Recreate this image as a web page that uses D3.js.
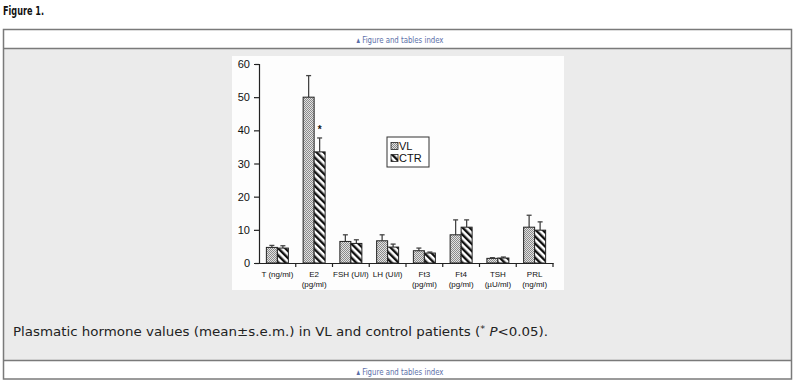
<!DOCTYPE html>
<html>
<head>
<meta charset="utf-8">
<script src="https://cdnjs.cloudflare.com/ajax/libs/d3/7.8.5/d3.min.js"></script>
<style>
  body { margin: 0; background: #fff; }
  svg { display: block; }
</style>
</head>
<body>
<div id="chart"></div>
<script>
// data
var categories = ["T", "E2", "FSH", "LH", "Ft3", "Ft4", "TSH", "PRL"];
var labelLine1 = ["T (ng/ml)", "E2", "FSH (UI/l)", "LH (UI/l)", "Ft3", "Ft4", "TSH", "PRL"];
var labelLine2 = ["", "(pg/ml)", "", "", "(pg/ml)", "(pg/ml)", "(\u00b5U/ml)", "(ng/ml)"];
var vlMean = [4.7, 50, 6.5, 6.7, 3.7, 8.5, 1.4, 10.8];
var vlErr = [0.6, 6.5, 2.0, 1.8, 0.8, 4.5, 0.2, 3.6];
var ctrMean = [4.5, 33.5, 5.9, 4.8, 3.0, 10.8, 1.5, 9.9];
var ctrErr = [0.7, 4.2, 1.1, 0.9, 0.3, 2.2, 0.3, 2.5];
var yTicks = [0, 10, 20, 30, 40, 50, 60];
var seriesNames = ["VL", "CTR"];

var W = 800, H = 387;
var svg = d3.select("#chart").append("svg").attr("width", W).attr("height", H);

var defs = svg.append("defs");
var dots = defs.append("pattern").attr("id", "dots")
  .attr("patternUnits", "userSpaceOnUse").attr("width", 2).attr("height", 2);
dots.append("rect").attr("width", 2).attr("height", 2).attr("fill", "#e2e2e2");
dots.append("rect").attr("width", 1).attr("height", 1).attr("fill", "#8a8a8a");
dots.append("rect").attr("x", 1).attr("y", 1).attr("width", 1).attr("height", 1).attr("fill", "#8a8a8a");

var stripes = defs.append("pattern").attr("id", "stripes")
  .attr("patternUnits", "userSpaceOnUse").attr("width", 5).attr("height", 5)
  .attr("patternTransform", "rotate(-45)");
stripes.append("rect").attr("width", 5).attr("height", 5).attr("fill", "#fff");
stripes.append("rect").attr("width", 2.4).attr("height", 5).attr("fill", "#111");

var fills = { VL: "url(#dots)", CTR: "url(#stripes)" };

/* page frame */
svg.append("text").attr("x", 3).attr("y", 15)
  .attr("font-family", "DejaVu Sans Condensed, DejaVu Sans")
  .attr("font-weight", "bold").attr("font-size", 13)
  .attr("textLength", 41).attr("lengthAdjust", "spacingAndGlyphs")
  .attr("fill", "#111").text("Figure 1.");

svg.append("rect").attr("x", 3.5).attr("y", 48.5).attr("width", 788).attr("height", 312)
  .attr("fill", "#ebebeb");
svg.append("rect").attr("x", 3.5).attr("y", 29.5).attr("width", 788).attr("height", 349.5)
  .attr("fill", "none").attr("stroke", "#7a7a7a").attr("stroke-width", 1.5);
[48.5, 360.5].forEach(function(y) {
  svg.append("line").attr("x1", 3.5).attr("x2", 791.5).attr("y1", y).attr("y2", y)
    .attr("stroke", "#7a7a7a").attr("stroke-width", 1.5);
});

[39, 371].forEach(function(y) {
  svg.append("text").attr("x", 400).attr("y", y + 3.5).attr("text-anchor", "middle")
    .attr("font-family", "DejaVu Sans Condensed, DejaVu Sans").attr("font-size", 9.5)
    .attr("fill", "#5b6ea8")
    .attr("textLength", 87).attr("lengthAdjust", "spacingAndGlyphs")
    .text("\u25b4 Figure and tables index");
});

var cap = svg.append("text").attr("x", 13).attr("y", 336)
  .attr("font-family", "Verdana, DejaVu Sans").attr("font-size", 12.5).attr("fill", "#222")
  .attr("textLength", 535).attr("lengthAdjust", "spacingAndGlyphs");
cap.append("tspan").text("Plasmatic hormone values (mean\u00b1s.e.m.) in VL and control patients (");
cap.append("tspan").attr("font-size", 9).attr("dy", -4).text("*");
cap.append("tspan").attr("dy", 4).text(" ");
cap.append("tspan").attr("font-style", "italic").text("P");
cap.append("tspan").text("<0.05).");

/* chart image */
svg.append("rect").attr("x", 232).attr("y", 56).attr("width", 332).attr("height", 234)
  .attr("fill", "#fdfdfd");

var x = d3.scaleBand().domain(categories).range([259, 553]).padding(0);
var xs = d3.scaleBand().domain(seriesNames).range([0, x.bandwidth()])
  .paddingInner(0).paddingOuter(0.67);
var y = d3.scaleLinear().domain([0, 60]).range([263, 64]);

var g = svg.append("g");

var yAxis = d3.axisLeft(y).tickValues(yTicks).tickSize(5).tickPadding(4);
g.append("g").attr("transform", "translate(259,0)").call(yAxis)
  .call(function(a) {
    a.selectAll("path,line").attr("stroke", "#222").attr("stroke-width", 1.2);
    a.selectAll("text").attr("font-family", "Arial, Liberation Sans").attr("font-size", 11)
      .attr("fill", "#111");
  });

var xAxis = d3.axisBottom(x).tickSize(0).tickFormat("");
g.append("g").attr("transform", "translate(0,263)").call(xAxis)
  .call(function(a) {
    a.select(".domain").attr("stroke", "#222").attr("stroke-width", 1.2);
  });

// band boundary ticks
g.append("g").selectAll("line").data(categories.slice(1).concat(["end"]))
  .enter().append("line")
  .attr("x1", function(d) { return d === "end" ? 553 : x(d); })
  .attr("x2", function(d) { return d === "end" ? 553 : x(d); })
  .attr("y1", 263).attr("y2", 267).attr("stroke", "#222").attr("stroke-width", 1.2);

var rows = [];
categories.forEach(function(c, i) {
  rows.push({ cat: c, s: "VL", v: vlMean[i], e: vlErr[i] });
  rows.push({ cat: c, s: "CTR", v: ctrMean[i], e: ctrErr[i] });
});

// error bars (upper only)
var eb = g.append("g").selectAll("g").data(rows).enter().append("g");
eb.append("line")
  .attr("x1", function(d) { return x(d.cat) + xs(d.s) + xs.bandwidth() / 2; })
  .attr("x2", function(d) { return x(d.cat) + xs(d.s) + xs.bandwidth() / 2; })
  .attr("y1", function(d) { return y(d.v); })
  .attr("y2", function(d) { return y(d.v + d.e); })
  .attr("stroke", "#444").attr("stroke-width", 1.3);
eb.append("line")
  .attr("x1", function(d) { return x(d.cat) + xs(d.s) + xs.bandwidth() / 2 - 2.5; })
  .attr("x2", function(d) { return x(d.cat) + xs(d.s) + xs.bandwidth() / 2 + 2.5; })
  .attr("y1", function(d) { return y(d.v + d.e); })
  .attr("y2", function(d) { return y(d.v + d.e); })
  .attr("stroke", "#444").attr("stroke-width", 1.3);

g.append("g").selectAll("rect").data(rows).enter().append("rect")
  .attr("x", function(d) { return x(d.cat) + xs(d.s); })
  .attr("y", function(d) { return y(d.v); })
  .attr("width", xs.bandwidth())
  .attr("height", function(d) { return y(0) - y(d.v); })
  .attr("fill", function(d) { return fills[d.s]; })
  .attr("stroke", "#222").attr("stroke-width", 1);

// significance mark over E2 CTR
g.append("text")
  .attr("x", x("E2") + xs("CTR") + xs.bandwidth() / 2)
  .attr("y", y(ctrMean[1] + ctrErr[1]) - 5)
  .attr("text-anchor", "middle").attr("font-family", "Arial, Liberation Sans")
  .attr("font-size", 10).attr("font-weight", "bold").attr("fill", "#111").text("*");

// category labels
var lab = g.append("g").selectAll("text").data(categories).enter().append("text")
  .attr("x", function(d) { return x(d) + x.bandwidth() / 2; })
  .attr("y", 277).attr("text-anchor", "middle")
  .attr("font-family", "Arial, Liberation Sans").attr("font-size", 8).attr("fill", "#111");
lab.append("tspan").text(function(d, i) { return labelLine1[i]; });
lab.append("tspan")
  .attr("x", function(d) { return x(d) + x.bandwidth() / 2; })
  .attr("dy", 10).text(function(d, i) { return labelLine2[i]; });

// legend
var lg = g.append("g").attr("transform", "translate(387,137)");
lg.append("rect").attr("width", 42).attr("height", 30).attr("fill", "#fff")
  .attr("stroke", "#333").attr("stroke-width", 1);
seriesNames.forEach(function(s, i) {
  lg.append("rect").attr("x", 4).attr("y", 5.5 + i * 12).attr("width", 7).attr("height", 7)
    .attr("fill", fills[s]).attr("stroke", "#222").attr("stroke-width", 0.8);
  lg.append("text").attr("x", 12).attr("y", 13 + i * 12)
    .attr("font-family", "Arial, Liberation Sans").attr("font-size", 11).attr("fill", "#111").text(s);
});
</script>
</body>
</html>
